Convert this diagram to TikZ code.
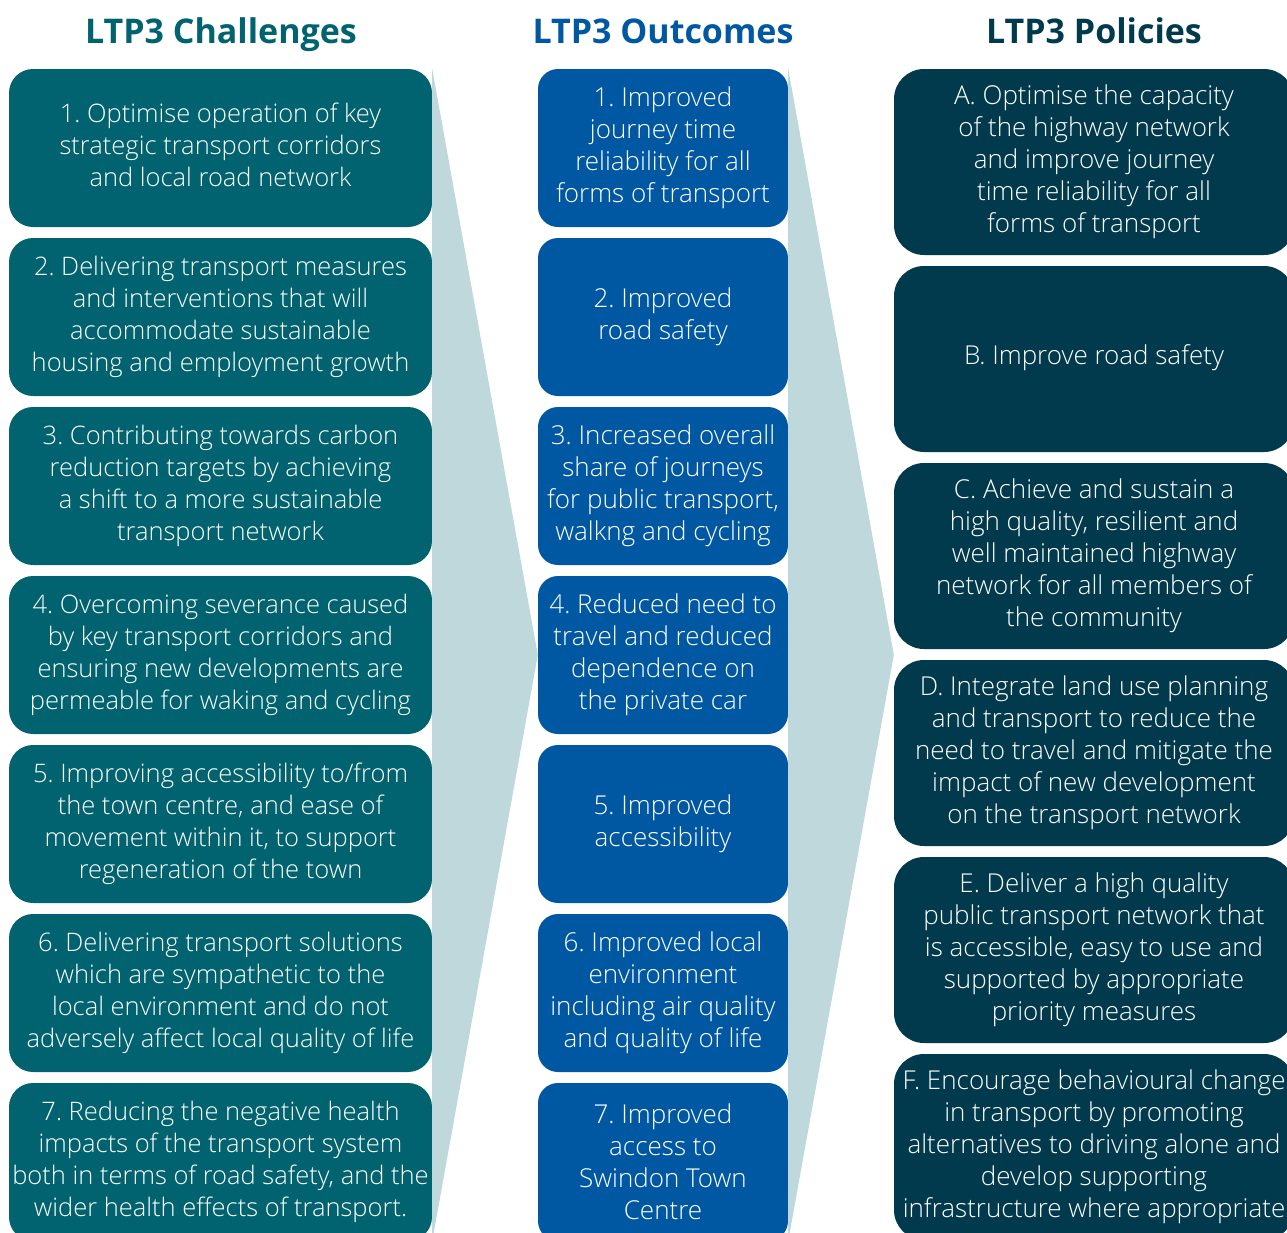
\documentclass[tikz,border=0pt]{standalone}
\usepackage{fontspec}
\IfFontExistsTF{Open Sans Light}
  {\newfontfamily\bodyfont{Open Sans Light}}
  {\IfFontExistsTF{Lato Light}{\newfontfamily\bodyfont{Lato Light}}{\newfontfamily\bodyfont{Open Sans}}}
\newfontfamily\headfont{Open Sans}
\frenchspacing
\definecolor{chalteal}{HTML}{00636F}
\definecolor{outblue}{HTML}{0058A2}
\definecolor{poldark}{HTML}{013A4D}
\definecolor{arrowgrey}{HTML}{BFD8DC}
\begin{document}
\begin{tikzpicture}[x=1pt,y=-1pt,
  head/.style={font=\headfont\bfseries\fontsize{34}{40}\selectfont, anchor=base, inner sep=0pt},
  card/.style={rounded corners=24pt, text=white, align=center, inner sep=0pt,
    font=\bodyfont\frenchspacing\fontsize{25.5}{32}\selectfont},
  challenge/.style={card, fill=chalteal, minimum width=423pt, minimum height=158pt},
  outcome/.style={card, fill=outblue, minimum width=250pt, minimum height=158pt, rounded corners=20pt,
    font=\bodyfont\frenchspacing\fontsize{26}{32}\selectfont},
  policy/.style={card, fill=poldark, minimum width=400pt, minimum height=186pt, rounded corners=30pt,
    font=\bodyfont\frenchspacing\fontsize{26}{32}\selectfont},
]
\useasboundingbox (0,0) rectangle (1287,1232);
\clip (0,0) rectangle (1287,1232);

% column headings
\node[head, text=chalteal] (hc) at (221,43) {LTP3 Challenges};
\node[head, text=outblue]  (ho) at (663,43) {LTP3 Outcomes};
\node[head, text=poldark]  (hp) at (1094,43) {LTP3 Policies};

% challenges
\node[challenge] (c1) at (220.5,148) {\raisebox{3pt}{\begin{tabular}{@{}c@{}}1. Optimise operation of key\\strategic transport corridors\\and local road network\end{tabular}}};
\node[challenge] (c2) at (220.5,317) {2. Delivering transport measures\\and interventions that will\\accommodate sustainable\\housing and employment growth};
\node[challenge] (c3) at (220.5,486) {3. Contributing towards carbon\\reduction targets by achieving\\a shift to a more sustainable\\transport network};
\node[challenge] (c4) at (220.5,655) {4. Overcoming severance caused\\by key transport corridors and\\ensuring new developments are\\permeable for waking and cycling};
\node[challenge] (c5) at (220.5,824) {5. Improving accessibility to/from\\the town centre, and ease of\\movement within it, to support\\regeneration of the town};
\node[challenge] (c6) at (220.5,993) {6. Delivering transport solutions\\which are sympathetic to the\\local environment and do not\\adversely affect local quality of life};
\node[challenge] (c7) at (220.5,1162) {7. Reducing the negative health\\impacts of the transport system\\both in terms of road safety, and the\\wider health effects of transport.};

% outcomes
\node[outcome] (o1) at (663,148) {1. Improved\\journey time\\reliability for all\\forms of transport};
\node[outcome] (o2) at (663,317) {2. Improved\\road safety};
\node[outcome] (o3) at (663,486) {3. Increased overall\\share of journeys\\for public transport,\\walkng and cycling};
\node[outcome] (o4) at (663,655) {4. Reduced need to\\travel and reduced\\dependence on\\the private car};
\node[outcome] (o5) at (663,824) {5. Improved\\accessibility};
\node[outcome] (o6) at (663,993) {6. Improved local\\environment\\including air quality\\and quality of life};
\node[outcome] (o7) at (663,1162) {7. Improved\\access to\\Swindon Town\\Centre};

% policies
\node[policy] (pa) at (1094,162) {A. Optimise the capacity\\of the highway network\\and improve journey\\time reliability for all\\forms of transport};
\node[policy] (pb) at (1094,359) {\raisebox{8pt}{B. Improve road safety}};
\node[policy] (pc) at (1094,556) {C. Achieve and sustain a\\high quality, resilient and\\well maintained highway\\network for all members of\\the community};
\node[policy] (pd) at (1094,753) {D. Integrate land use planning\\and transport to reduce the\\need to travel and mitigate the\\impact of new development\\on the transport network};
\node[policy] (pe) at (1094,950) {E. Deliver a high quality\\public transport network that\\is accessible, easy to use and\\supported by appropriate\\priority measures};
\node[policy] (pf) at (1094,1147) {F. Encourage behavioural change\\in transport by promoting\\alternatives to driving alone and\\develop supporting\\infrastructure where appropriate};

% chevrons pointing from one column to the next
\fill[arrowgrey] (c1.north east) -- (o4.west) -- (c7.south east) -- cycle;
\fill[arrowgrey] (o1.north east) -- (o4.east -| pa.west) -- (o7.south east) -- cycle;
\end{tikzpicture}
\end{document}
